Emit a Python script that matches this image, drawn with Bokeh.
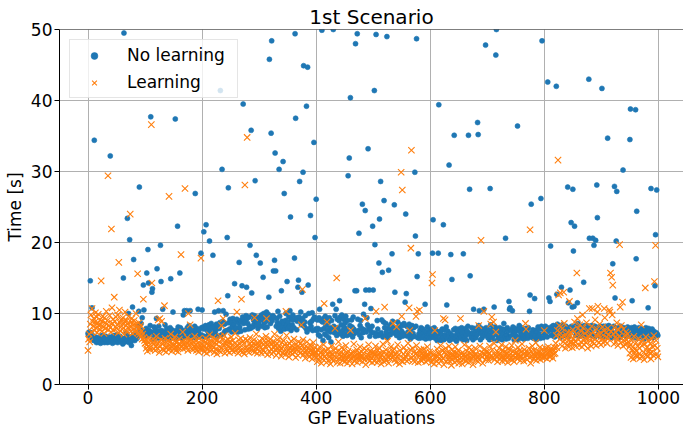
from bokeh.plotting import figure
from bokeh.models import Range1d, Span
from bokeh.embed import file_html
from bokeh.resources import INLINE

title = "1st Scenario"
x_label = "GP Evaluations"
y_label = "Time [s]"
series_names = ["No learning", "Learning"]
x_ticks = [0, 200, 400, 600, 800, 1000]
y_ticks = [0, 10, 20, 30, 40, 50]

# ---- "No learning": band values per block of 100 evaluations ----
nl_000 = [7.2, 6.9, 7.4, 7.0, 6.8, 7.3, 6.6, 7.1, 6.9, 6.5,
          6.2, 6.0, 6.4, 6.7, 6.1, 5.9, 6.3, 6.6, 6.0, 6.2,
          6.5, 6.1, 5.8, 6.4, 6.9, 6.3, 6.0, 6.6, 6.2, 5.9,
          6.4, 6.8, 6.1, 6.3, 5.9, 6.5, 6.2, 6.0, 6.7, 6.4,
          6.1, 6.6, 6.3, 5.8, 6.2, 6.9, 6.4, 6.0, 6.5, 6.2,
          7.0, 6.3, 5.9, 6.6, 6.1, 6.4, 6.8, 6.2, 6.0, 6.5,
          6.3, 5.7, 6.1, 6.7, 6.4, 6.0, 6.6, 7.2, 6.3, 6.1,
          6.8, 6.4, 5.9, 6.2, 6.5, 6.0, 5.5, 6.7, 6.3, 6.9,
          6.6, 7.1, 6.2, 6.4, 6.8, 7.3, 6.5, 7.0, 8.2, 7.6,
          7.4, 6.9, 7.7, 8.6, 7.2, 9.4, 7.0, 7.5, 8.1, 7.3]
nl_100 = [7.5, 6.8, 7.9, 6.5, 7.2, 8.0, 6.7, 7.6, 7.0, 8.3,
          6.6, 7.4, 6.9, 7.8, 6.4, 7.3, 8.1, 6.8, 7.7, 7.0,
          9.3, 6.9, 6.5, 7.5, 8.2, 6.7, 7.3, 7.9, 6.6, 7.6,
          6.8, 7.8, 7.1, 7.4, 6.5, 8.4, 7.2, 6.9, 7.9, 6.6,
          7.6, 7.0, 6.7, 7.4, 8.0, 6.9, 6.5, 7.7, 7.2, 10.2,
          6.8, 7.5, 6.6, 7.9, 7.0, 7.6, 6.5, 7.3, 8.1, 6.9,
          7.5, 6.7, 8.0, 7.1, 7.7, 6.4, 7.3, 9.8, 6.8, 7.8,
          7.0, 7.6, 6.7, 10.4, 8.0, 6.9, 7.3, 8.3, 6.6, 10.5,
          7.7, 7.0, 7.5, 6.6, 7.9, 7.2, 6.8, 8.2, 7.1, 6.6,
          7.4, 7.9, 6.8, 10.6, 7.2, 7.7, 6.7, 7.0, 9.4, 8.0]
nl_200 = [7.6, 6.9, 8.1, 7.2, 7.8, 6.7, 8.3, 7.3, 7.9, 6.8,
          7.5, 7.0, 8.4, 7.7, 6.9, 7.9, 8.6, 7.2, 8.0, 7.4,
          7.0, 8.2, 10.2, 7.6, 7.1, 8.5, 7.8, 6.8, 8.3, 7.4,
          7.9, 8.7, 7.3, 8.4, 7.0, 7.8, 8.9, 8.1, 7.2, 8.5,
          7.5, 8.6, 9.9, 7.6, 9.0, 8.0, 7.3, 8.7, 7.8, 9.2,
          7.7, 8.8, 7.4, 8.2, 9.3, 7.6, 8.5, 9.6, 7.8, 8.9,
          8.0, 9.2, 7.6, 7.4, 8.7, 9.4, 8.1, 9.0, 7.5, 8.8,
          8.3, 9.5, 7.8, 8.6, 9.1, 7.7, 8.9, 9.7, 8.0, 9.3,
          8.6, 7.8, 9.5, 8.2, 9.0, 7.9, 9.4, 8.4, 9.8, 8.1,
          9.1, 8.5, 9.7, 8.0, 8.9, 9.9, 8.3, 9.4, 7.9, 8.8]
nl_300 = [8.4, 9.5, 7.9, 9.1, 9.8, 8.2, 9.3, 7.6, 10.0, 8.7,
          8.0, 9.6, 8.9, 10.2, 8.1, 9.2, 9.9, 8.5, 7.7, 9.4,
          8.6, 10.1, 8.0, 9.0, 9.7, 8.3, 9.5, 7.8, 8.9, 9.8,
          8.2, 9.3, 8.7, 10.3, 7.9, 9.1, 9.6, 8.4, 7.5, 9.4,
          8.9, 8.1, 9.9, 8.6, 9.3, 7.8, 9.0, 10.0, 8.3, 9.6,
          7.9, 8.8, 9.5, 8.2, 10.4, 8.6, 7.6, 9.2, 8.4, 9.8,
          9.1, 8.0, 8.7, 9.7, 8.1, 9.4, 7.7, 8.9, 10.1, 8.5,
          9.5, 8.0, 9.0, 10.2, 8.4, 7.5, 9.3, 8.6, 9.8, 8.2,
          8.8, 9.7, 7.9, 9.1, 7.4, 9.4, 8.5, 10.0, 7.8, 8.7,
          9.6, 8.2, 8.9, 10.1, 7.6, 9.2, 8.0, 9.5, 8.4, 7.8]
nl_400 = [8.4, 7.6, 9.1, 7.9, 7.0, 9.4, 8.2, 6.8, 9.0, 7.7,
          7.3, 8.8, 6.2, 9.3, 7.9, 7.1, 9.6, 8.3, 6.9, 9.1,
          7.6, 8.7, 6.6, 9.4, 8.0, 7.4, 6.0, 9.0, 7.8, 7.0,
          8.9, 8.2, 7.3, 9.7, 7.5, 8.6, 6.9, 9.2, 8.0, 7.4,
          9.0, 7.7, 9.5, 7.1, 8.4, 9.8, 7.6, 6.8, 9.2, 8.1,
          7.2, 8.7, 9.6, 7.8, 6.9, 9.0, 8.2, 7.4, 9.9, 8.3,
          7.6, 7.0, 9.1, 8.1, 6.7, 9.5, 7.8, 7.2, 8.8, 9.3,
          7.4, 8.5, 6.8, 9.2, 7.6, 9.7, 7.0, 8.3, 9.0, 6.6,
          7.9, 8.8, 7.3, 9.9, 7.7, 6.9, 9.1, 8.2, 7.4, 9.4,
          8.4, 7.1, 8.0, 9.3, 6.8, 7.7, 9.5, 7.3, 8.2, 6.9]
nl_500 = [8.3, 7.3, 8.9, 7.6, 6.8, 8.5, 7.2, 9.0, 7.8, 6.9,
          8.7, 7.5, 7.0, 8.4, 7.3, 9.1, 7.7, 6.7, 8.8, 7.2,
          8.0, 6.9, 8.6, 7.4, 9.0, 6.6, 7.9, 8.7, 7.1, 8.2,
          7.0, 8.5, 7.6, 6.8, 8.9, 7.3, 8.1, 6.7, 8.6, 7.2,
          7.8, 6.9, 7.4, 8.8, 7.0, 8.2, 6.6, 7.7, 8.4, 6.9,
          7.5, 6.8, 8.3, 7.2, 8.6, 6.9, 6.5, 7.9, 7.1, 8.2,
          6.8, 7.4, 6.9, 8.5, 7.2, 6.4, 7.8, 7.0, 8.3, 6.7,
          7.2, 8.0, 6.8, 7.5, 6.5, 8.2, 6.9, 7.7, 6.6, 7.3,
          7.1, 6.5, 7.6, 6.8, 8.0, 7.0, 6.6, 7.8, 7.3, 6.7,
          7.5, 6.9, 6.4, 7.4, 6.8, 8.1, 6.7, 7.2, 6.5, 7.7]
nl_600 = [7.3, 6.6, 7.8, 6.9, 6.3, 7.5, 6.7, 8.0, 7.1, 6.5,
          7.6, 6.9, 6.2, 7.4, 6.8, 7.9, 7.1, 6.4, 7.5, 6.2,
          7.0, 7.8, 6.6, 7.3, 6.3, 7.7, 7.0, 6.7, 8.1, 7.2,
          6.5, 7.5, 6.8, 7.8, 6.2, 7.2, 8.2, 6.6, 7.4, 6.9,
          6.4, 7.7, 7.1, 6.6, 7.9, 6.9, 6.1, 7.5, 6.8, 7.3,
          7.8, 6.5, 7.0, 7.6, 6.6, 8.0, 7.2, 6.3, 7.7, 6.8,
          7.4, 6.6, 7.9, 7.0, 6.2, 7.5, 8.2, 6.8, 7.2, 6.5,
          7.7, 6.9, 6.6, 8.0, 7.3, 6.3, 7.5, 6.8, 7.9, 7.1,
          6.6, 7.7, 7.0, 6.4, 7.4, 8.3, 6.8, 7.5, 6.3, 7.2,
          7.9, 6.6, 7.3, 6.9, 6.4, 7.7, 7.1, 6.7, 8.0, 6.9]
nl_700 = [7.2, 6.6, 7.7, 6.9, 6.3, 7.5, 8.4, 6.7, 7.4, 6.4,
          7.9, 6.9, 6.5, 7.5, 8.1, 6.7, 7.2, 6.2, 7.7, 6.9,
          6.5, 7.4, 8.0, 6.7, 7.6, 6.9, 6.3, 7.8, 7.1, 8.6,
          7.7, 6.7, 7.4, 6.4, 7.0, 8.0, 7.5, 6.5, 8.1, 7.1,
          6.4, 7.7, 6.9, 7.6, 6.6, 8.1, 7.1, 6.3, 7.4, 7.9,
          6.9, 6.5, 7.6, 7.1, 6.3, 7.8, 8.3, 6.7, 7.4, 6.9,
          8.0, 7.1, 6.5, 7.6, 6.4, 7.4, 6.9, 7.9, 6.6, 7.7,
          7.1, 6.5, 8.0, 6.9, 7.5, 6.4, 7.3, 8.8, 6.9, 6.6,
          7.7, 7.1, 6.5, 7.9, 6.9, 7.6, 6.3, 7.4, 6.7, 8.1,
          6.9, 7.8, 7.1, 6.5, 7.6, 8.2, 6.9, 7.9, 6.6, 7.3]
nl_800 = [7.7, 6.9, 8.2, 7.3, 7.9, 6.7, 8.1, 7.5, 7.0, 8.0,
          7.2, 8.3, 6.9, 7.7, 8.2, 7.0, 8.3, 7.4, 6.7, 7.9,
          7.2, 8.1, 6.8, 8.5, 7.5, 8.0, 6.9, 7.7, 6.6, 8.3,
          7.8, 7.1, 8.4, 7.4, 6.9, 8.2, 7.6, 7.0, 8.2, 7.9,
          7.1, 8.3, 7.4, 6.8, 8.0, 8.4, 7.6, 6.9, 8.2, 7.3,
          6.7, 7.9, 7.2, 8.1, 7.6, 6.9, 8.3, 7.4, 8.0, 8.6,
          7.1, 7.9, 6.8, 8.2, 7.4, 8.0, 6.9, 7.6, 8.1, 7.2,
          8.3, 7.4, 6.8, 7.9, 8.3, 7.5, 6.9, 8.2, 7.3, 6.7,
          8.0, 7.2, 7.6, 8.3, 6.9, 7.9, 8.1, 7.3, 6.7, 8.2,
          7.6, 6.9, 7.9, 7.2, 8.0, 7.4, 8.1, 6.8, 7.6, 8.2]
nl_900 = [7.2, 7.9, 6.7, 7.5, 8.2, 6.9, 7.7, 7.0, 8.2, 7.4,
          6.7, 7.9, 7.2, 8.3, 6.9, 7.6, 7.0, 8.0, 7.4, 6.6,
          7.8, 7.2, 8.2, 6.9, 7.5, 6.7, 8.0, 7.2, 8.0, 7.6,
          7.0, 7.9, 6.6, 7.4, 8.2, 6.9, 7.7, 7.2, 6.5, 8.0,
          7.4, 6.9, 7.8, 7.2, 6.7, 7.6, 8.1, 7.0, 7.9, 7.2,
          6.5, 7.5, 6.9, 8.0, 7.2, 6.6, 7.6, 7.0, 8.1, 7.4,
          6.9, 7.8, 7.2, 6.5, 7.6, 7.0, 8.0, 6.7, 7.4, 6.9,
          7.8, 7.2, 6.7, 7.6, 7.0, 6.4, 7.5, 6.9, 8.0, 7.3,
          6.7, 7.6, 7.0, 7.9, 6.5, 7.3, 6.9, 7.5, 6.7, 7.8,
          7.1, 6.6, 7.5, 6.9, 7.6, 6.7, 7.3, 6.4, 7.1, 6.9]

# "No learning": slow evaluations (evaluation index, time)
nl_slow_x = [4, 7, 11, 39, 62, 63, 69, 71, 73, 78, 80, 89, 90, 97, 98,
             103, 105, 106, 110, 112, 113, 121, 127, 128, 131, 145, 153, 157,
             161, 169, 179, 188, 198, 200, 203, 207, 213, 219, 229, 232, 235,
             237, 244, 245, 246, 257, 265, 270, 272, 278, 284, 286, 287, 293,
             295, 302, 307, 317, 318, 321, 322, 325, 327, 328, 329, 335, 339,
             342, 344, 349, 355, 362, 363, 364, 368, 369, 371, 375, 377, 378,
             383, 385, 386, 390, 396, 398, 400, 406, 410, 429, 430, 435, 441,
             456, 458, 460, 468, 469, 471, 472, 475, 481, 485, 486, 487, 491,
             493, 496, 499, 500, 502, 503, 505, 510, 511, 513, 516, 519, 524,
             527, 533, 537, 538, 556, 557, 558, 573, 574, 576, 577, 579, 591,
             604, 605, 614, 615, 623, 629, 633, 636, 638, 642, 658, 667, 669,
             670, 676, 683, 684, 686, 694, 697, 705, 712, 715, 716, 732, 738,
             739, 740, 744, 753, 774, 775, 777, 783, 794, 796, 806, 808, 810,
             811, 821, 822, 830, 841, 842, 845, 847, 849, 850, 851, 852, 853,
             858, 869, 878, 879, 885, 887, 890, 892, 893, 901, 911, 920, 923,
             924, 926, 927, 938, 950, 951, 954, 960, 961, 962, 982, 987, 994,
             995, 997]
nl_slow_y = [14.6, 10.8, 34.4, 32.2, 15.0, 49.5, 23.4, 10.0, 20.4, 10.9, 17.6, 10.3, 27.8, 14.0, 10.5,
             15.7, 19.0, 14.3, 37.7, 13.0, 13.5, 16.3, 19.6, 14.5, 10.6, 14.9, 37.4, 22.3,
             15.7, 10.4, 10.4, 26.9, 18.5, 10.5, 21.5, 22.5, 20.2, 18.2, 10.4, 41.4, 30.3,
             10.4, 20.7, 12.5, 27.7, 14.2, 17.2, 13.9, 39.5, 13.7, 19.6, 35.8, 12.9, 28.7,
             18.2, 17.1, 15.1, 12.3, 45.8, 35.4, 48.4, 16.0, 17.5, 32.6, 16.0, 30.3, 13.2,
             31.4, 26.9, 14.5, 23.6, 17.8, 49.4, 37.5, 13.7, 14.7, 28.6, 13.0, 29.9, 44.9,
             39.2, 44.7, 14.0, 23.8, 34.1, 20.7, 26.1, 10.6, 49.9, 11.3, 50.0, 10.6, 11.8,
             29.4, 31.9, 40.4, 13.2, 48.0, 13.2, 49.4, 21.3, 25.4, 11.3, 24.5, 13.3, 33.2,
             13.3, 10.7, 22.3, 13.3, 41.4, 19.7, 49.3, 17.1, 23.3, 28.6, 15.8, 25.9, 49.0,
             16.1, 18.4, 25.3, 13.0, 11.6, 24.0, 12.8, 29.9, 20.9, 48.7, 15.2, 18.4, 11.3,
             18.5, 23.2, 18.5, 39.4, 22.5, 11.2, 30.9, 18.3, 14.8, 35.1, 18.4, 35.1, 27.5,
             15.3, 10.6, 36.9, 35.2, 10.4, 10.6, 47.8, 27.6, 10.9, 46.4, 50.0, 20.6, 11.7,
             10.6, 10.8, 10.4, 36.4, 10.3, 12.6, 25.4, 12.1, 26.2, 48.4, 42.6, 12.2, 11.7,
             19.5, 42.0, 12.7, 13.7, 27.8, 11.5, 13.3, 22.8, 10.9, 27.5, 18.8, 11.0, 22.3,
             11.5, 14.4, 43.0, 20.6, 20.6, 19.6, 20.3, 28.1, 23.5, 41.7, 34.7, 17.0, 27.9,
             12.2, 20.2, 27.2, 30.2, 34.5, 38.8, 11.8, 38.7, 17.7, 24.4, 10.8, 27.6, 13.9,
             21.1, 27.4]

# ---- "Learning": band values per block of 100 evaluations ----
ln_000 = [4.8, 6.4, 7.1, 6.0, 8.5, 9.8, 7.4, 9.2, 8.9, 8.2,
          9.3, 7.6, 8.8, 10.1, 8.0, 9.5, 7.3, 8.6, 9.9, 8.3,
          7.8, 9.1, 8.4, 9.7, 7.5, 8.9, 9.6, 8.1, 7.2, 9.4,
          8.7, 7.9, 10.3, 8.5, 9.0, 8.2, 7.7, 8.3, 9.7, 8.0,
          7.4, 8.8, 9.3, 8.6, 9.2, 7.6, 10.4, 8.9, 8.1, 9.5,
          7.9, 8.4, 9.8, 7.3, 8.0, 9.1, 8.7, 7.5, 9.1, 8.2,
          7.8, 9.4, 8.5, 7.1, 8.9, 10.2, 7.7, 8.3, 9.0, 7.4,
          8.6, 9.6, 7.9, 8.2, 8.8, 7.5, 8.8, 9.3, 7.2, 8.4,
          7.8, 9.0, 7.4, 8.5, 10.0, 7.6, 8.1, 8.7, 7.3, 8.7,
          7.0, 7.9, 8.3, 6.8, 7.5, 6.4, 7.1, 6.9, 6.6, 6.2]
ln_100 = [5.8, 6.3, 5.1, 5.6, 4.7, 6.0, 5.4, 6.6, 5.2, 4.9,
          6.1, 5.5, 4.6, 5.9, 6.4, 5.0, 5.7, 6.2, 4.8, 5.3,
          6.8, 5.6, 5.1, 9.0, 6.0, 4.5, 5.8, 5.4, 6.3, 8.9,
          5.0, 5.7, 6.1, 4.8, 5.5, 6.5, 5.2, 4.6, 5.9, 5.3,
          6.2, 4.9, 5.6, 6.0, 5.1, 7.1, 5.4, 4.7, 5.8, 6.3,
          5.0, 5.5, 6.7, 5.2, 4.8, 5.9, 6.1, 5.3, 4.6, 5.7,
          6.4, 5.1, 5.6, 4.9, 6.0, 5.4, 7.4, 5.0, 5.8, 6.2,
          4.7, 5.5, 5.9, 5.2, 6.6, 4.8, 5.3, 6.1, 5.6, 4.5,
          5.9, 6.3, 5.0, 5.7, 4.9, 6.0, 5.4, 6.8, 5.1, 5.6,
          4.8, 6.2, 5.3, 5.8, 4.6, 6.5, 5.0, 5.5, 6.1, 5.2]
ln_200 = [5.7, 4.9, 6.2, 5.3, 4.6, 5.9, 6.5, 5.1, 4.4, 5.8,
          6.3, 5.0, 5.5, 7.0, 4.7, 5.6, 6.1, 4.9, 5.4, 6.6,
          5.2, 4.5, 5.9, 6.4, 5.0, 5.7, 4.3, 6.2, 5.5, 4.8,
          6.0, 5.3, 6.8, 4.6, 5.8, 5.1, 6.3, 4.9, 5.6, 6.9,
          4.4, 5.7, 6.1, 5.0, 4.7, 6.4, 5.4, 5.9, 4.5, 6.0,
          5.2, 6.7, 4.8, 5.5, 6.2, 5.0, 4.6, 5.8, 7.2, 5.3,
          4.9, 6.0, 5.6, 4.4, 6.3, 5.1, 5.7, 4.7, 6.5, 5.4,
          5.0, 4.6, 6.1, 5.8, 4.3, 5.5, 6.4, 5.2, 4.8, 5.9,
          6.2, 5.0, 4.5, 5.7, 6.6, 5.3, 4.9, 6.0, 5.4, 4.7,
          5.8, 6.3, 5.1, 4.6, 5.6, 7.1, 5.0, 4.4, 5.9, 5.5]
ln_300 = [5.4, 4.7, 6.0, 5.2, 4.4, 6.5, 5.0, 4.8, 5.7, 6.2,
          4.5, 5.3, 6.8, 4.9, 5.6, 4.2, 6.1, 5.4, 4.7, 5.9,
          6.4, 5.0, 4.3, 5.7, 6.0, 4.6, 5.2, 7.1, 4.9, 5.5,
          4.1, 5.8, 6.3, 5.0, 4.5, 5.4, 6.6, 4.8, 5.1, 4.0,
          5.9, 4.4, 5.3, 6.2, 4.7, 5.6, 4.2, 5.0, 6.9, 4.6,
          5.5, 4.9, 3.9, 5.8, 5.2, 4.5, 6.1, 4.8, 5.4, 4.3,
          5.0, 6.4, 4.6, 5.1, 3.8, 5.7, 4.9, 5.3, 4.1, 6.0,
          4.7, 5.2, 4.4, 5.8, 4.0, 5.5, 4.8, 6.3, 4.2, 5.0,
          4.5, 3.7, 5.4, 4.9, 6.0, 4.3, 5.1, 4.6, 3.9, 5.6,
          4.8, 4.2, 5.3, 3.6, 4.7, 5.9, 4.4, 4.0, 5.2, 4.5]
ln_400 = [3.8, 4.5, 3.2, 4.9, 4.1, 3.5, 5.3, 3.9, 4.4, 3.0,
          4.7, 3.6, 4.2, 5.6, 3.3, 4.0, 4.8, 3.7, 3.1, 4.6,
          4.3, 5.0, 3.4, 3.9, 4.5, 2.9, 4.1, 5.4, 3.6, 4.2,
          3.3, 4.8, 4.0, 3.5, 5.1, 3.8, 4.4, 3.1, 4.7, 6.0,
          3.7, 4.2, 3.0, 4.6, 3.9, 5.2, 3.4, 4.3, 3.8, 4.9,
          3.2, 4.1, 5.5, 3.6, 4.4, 3.0, 4.7, 3.9, 4.2, 3.5,
          5.0, 3.7, 4.3, 2.9, 4.6, 3.8, 5.7, 3.3, 4.0, 4.5,
          3.6, 4.9, 3.1, 4.2, 3.8, 4.4, 3.4, 5.3, 3.9, 4.1,
          4.6, 3.2, 4.0, 3.7, 5.1, 3.5, 4.3, 2.8, 4.8, 3.9,
          4.2, 3.6, 5.6, 4.0, 3.3, 4.7, 3.8, 4.4, 3.1, 4.5]
ln_500 = [3.9, 4.6, 3.3, 4.2, 5.4, 3.7, 4.0, 3.1, 4.8, 4.3,
          3.5, 5.1, 3.8, 4.4, 2.9, 4.1, 3.6, 5.7, 4.5, 3.2,
          4.0, 3.7, 4.9, 3.4, 4.3, 6.1, 3.9, 3.0, 4.6, 4.1,
          3.6, 5.3, 4.2, 3.8, 4.7, 3.3, 4.0, 5.0, 3.5, 4.4,
          3.1, 4.5, 3.9, 5.6, 3.7, 4.2, 2.9, 4.8, 3.4, 4.1,
          4.6, 3.8, 3.2, 4.3, 5.2, 3.6, 4.0, 3.9, 4.7, 3.3,
          4.2, 5.8, 3.5, 4.1, 3.7, 4.9, 3.0, 4.4, 3.8, 5.1,
          3.4, 4.0, 4.6, 3.2, 4.3, 3.9, 5.5, 3.6, 4.2, 3.1,
          4.8, 3.7, 4.1, 3.5, 4.9, 3.3, 4.4, 4.0, 3.6, 5.0,
          3.9, 4.5, 3.2, 4.1, 3.8, 5.3, 3.4, 4.2, 3.7, 4.6]
ln_600 = [3.7, 4.4, 3.1, 4.0, 5.2, 3.5, 4.2, 2.9, 4.7, 3.8,
          4.1, 3.3, 5.0, 3.9, 4.5, 3.0, 4.3, 3.6, 5.5, 4.0,
          3.4, 4.8, 3.7, 4.2, 2.8, 4.6, 3.9, 5.1, 3.2, 4.1,
          4.5, 3.6, 4.0, 5.4, 3.3, 4.3, 3.8, 2.7, 4.9, 3.5,
          4.2, 3.9, 4.6, 3.1, 5.3, 3.7, 4.0, 4.4, 3.4, 4.8,
          3.0, 4.1, 3.6, 5.0, 4.3, 3.8, 2.9, 4.5, 3.5, 4.2,
          5.6, 3.9, 4.0, 3.3, 4.7, 3.6, 4.1, 3.1, 5.2, 3.8,
          4.4, 3.4, 4.9, 3.7, 4.0, 2.8, 4.6, 3.9, 4.2, 5.1,
          3.5, 4.3, 3.8, 4.0, 3.2, 4.8, 3.6, 5.4, 4.1, 3.3,
          4.5, 3.9, 3.0, 4.4, 3.7, 5.0, 4.2, 3.5, 4.6, 3.8]
ln_700 = [4.0, 4.6, 3.4, 4.3, 5.4, 3.8, 8.5, 4.1, 3.1, 4.9,
          3.7, 4.4, 5.8, 3.5, 4.2, 7.4, 3.9, 4.7, 3.2, 4.5,
          4.1, 5.1, 3.6, 4.3, 3.9, 5.6, 3.3, 4.8, 4.0, 3.7,
          4.6, 3.4, 5.3, 4.2, 3.8, 4.4, 3.1, 5.0, 4.1, 3.6,
          4.9, 4.3, 3.9, 5.5, 3.5, 4.0, 4.7, 3.2, 4.4, 6.2,
          3.8, 4.5, 4.1, 3.6, 5.2, 4.2, 3.9, 4.8, 3.4, 4.6,
          4.0, 5.7, 3.7, 4.3, 3.3, 4.9, 4.4, 3.9, 7.8, 4.1,
          3.5, 4.6, 4.2, 5.1, 3.8, 4.4, 3.0, 4.7, 4.0, 5.4,
          4.3, 3.6, 4.8, 4.1, 3.9, 5.9, 3.4, 4.5, 4.2, 3.7,
          4.6, 4.0, 5.2, 3.5, 4.4, 4.1, 3.8, 5.0, 4.3, 3.9]
ln_800 = [4.5, 3.8, 5.1, 4.2, 4.7, 3.6, 4.4, 5.3, 4.0, 4.8,
          3.9, 4.6, 5.0, 4.1, 4.5, 3.7, 4.9, 4.3, 5.2, 4.4,
          5.8, 6.9, 5.2, 7.6, 6.1, 5.5, 8.3, 6.4, 5.0, 7.2,
          6.7, 5.4, 7.9, 6.0, 5.7, 8.6, 6.3, 5.1, 7.0, 6.6,
          5.6, 7.4, 6.2, 5.3, 8.1, 6.8, 5.9, 7.3, 6.0, 5.2,
          7.7, 6.5, 5.8, 8.8, 6.1, 5.4, 7.1, 6.6, 5.7, 7.9,
          6.3, 5.5, 8.4, 6.9, 6.0, 7.5, 5.3, 6.7, 8.0, 6.2,
          5.6, 7.2, 6.5, 5.9, 8.7, 6.4, 5.1, 7.6, 6.8, 5.8,
          7.0, 6.2, 5.4, 8.2, 6.7, 6.0, 7.4, 5.7, 6.4, 9.1,
          6.9, 5.5, 7.8, 6.3, 6.1, 7.1, 5.9, 8.5, 6.6, 5.6]
ln_900 = [7.2, 6.4, 8.1, 5.9, 7.6, 6.8, 9.4, 6.1, 7.3, 6.6,
          5.8, 7.9, 6.5, 7.0, 8.4, 6.2, 5.6, 7.5, 6.9, 9.8,
          6.3, 7.1, 5.7, 8.0, 6.6, 7.4, 6.0, 8.7, 6.4, 5.5,
          7.7, 6.8, 6.1, 7.2, 5.9, 8.3, 6.5, 7.0, 5.4, 7.8,
          6.2, 6.9, 5.6, 7.4, 6.3, 5.8, 7.1, 6.0, 6.6, 5.3,
          4.4, 5.6, 3.8, 6.2, 4.9, 5.3, 3.6, 6.8, 4.6, 5.0,
          4.1, 5.9, 4.7, 3.9, 5.4, 6.5, 4.3, 5.1, 3.7, 6.0,
          4.8, 5.5, 4.0, 6.3, 4.5, 3.5, 5.7, 4.9, 6.7, 4.2,
          5.2, 3.9, 6.1, 4.7, 5.0, 4.4, 5.8, 3.6, 6.4, 4.6,
          5.3, 4.1, 6.9, 4.8, 5.5, 3.8, 6.2, 4.3, 5.1, 7.0]

# "Learning": slower evaluations (evaluation index, time)
ln_slow_x = [7, 23, 35, 41, 42, 46, 54, 55, 74, 87, 97, 111, 112, 123, 126,
             134, 142, 163, 170, 176, 179, 198, 228, 234, 237, 261, 269, 275,
             279, 292, 313, 347, 374, 376, 414, 419, 433, 436, 460, 486, 505,
             520, 535, 541, 549, 550, 551, 563, 564, 566, 567, 575, 577, 581,
             603, 604, 608, 623, 626, 653, 685, 689, 694, 708, 711, 767, 775,
             800, 824, 825, 828, 834, 844, 857, 858, 867, 879, 884, 893, 894,
             905, 914, 915, 916, 918, 920, 932, 933, 937, 970, 977, 993, 995, 999]
ln_slow_y = [10.7, 14.6, 29.4, 21.9, 10.8, 12.3, 17.2, 10.5, 24.0, 15.6, 12.0, 36.6, 14.3, 9.1, 9.3,
             11.1, 26.5, 18.3, 27.6, 10.0, 8.4, 17.8, 11.8, 8.3, 9.3, 10.2, 12.0, 28.1,
             34.8, 9.4, 9.3, 10.3, 8.4, 13.4, 11.4, 8.8, 7.9, 15.0, 7.6, 9.3, 10.3,
             10.9, 8.6, 8.1, 29.9, 9.6, 27.4, 10.8, 7.6, 19.2, 33.0, 9.6, 10.3, 10.5,
             14.3, 15.5, 7.6, 9.3, 9.1, 9.3, 8.3, 20.3, 10.3, 9.5, 8.8, 8.6, 21.8,
             7.6, 31.6, 12.6, 12.9, 13.0, 11.7, 15.7, 9.3, 9.8, 10.7, 10.7, 10.2, 11.0,
             10.7, 10.5, 10.2, 15.7, 15.1, 14.0, 19.7, 10.9, 11.6, 8.4, 13.6, 14.5, 19.6, 3.9]


def assemble(blocks, slow_x, slow_y):
    values = []
    for b in blocks:
        values.extend(b)
    for i, v in zip(slow_x, slow_y):
        if i < len(values):
            values[i] = v
    return list(range(len(values))), values


x_nl, y_nl = assemble([nl_000, nl_100, nl_200, nl_300, nl_400,
                       nl_500, nl_600, nl_700, nl_800, nl_900], nl_slow_x, nl_slow_y)
x_ln, y_ln = assemble([ln_000, ln_100, ln_200, ln_300, ln_400,
                       ln_500, ln_600, ln_700, ln_800, ln_900], ln_slow_x, ln_slow_y)

FONT = "DejaVu Sans"

p = figure(width=683, height=433, output_backend="svg", toolbar_location=None,
           x_range=Range1d(-50, 1044), y_range=Range1d(0, 50),
           min_border_left=59, min_border_right=0, min_border_top=29, min_border_bottom=49,
           title=title)
p.outline_line_color = None
p.background_fill_color = "white"
p.border_fill_color = "white"

p.title.align = "center"
p.title.text_font = FONT
p.title.text_font_size = "20px"
p.title.text_font_style = "normal"
p.title.text_color = "black"
p.title.standoff = 2

for ax in (p.xaxis[0], p.yaxis[0]):
    ax.axis_line_color = "black"
    ax.axis_line_width = 1
    ax.major_tick_line_color = "black"
    ax.major_tick_out = 5
    ax.major_tick_in = 0
    ax.minor_tick_line_color = None
    ax.major_label_text_font = FONT
    ax.major_label_text_font_size = "17px"
    ax.major_label_text_color = "black"
    ax.axis_label_text_font = FONT
    ax.axis_label_text_font_size = "17px"
    ax.axis_label_text_font_style = "normal"
    ax.axis_label_text_color = "black"

p.xaxis.ticker = x_ticks
p.yaxis.ticker = y_ticks
p.xaxis.axis_label = x_label
p.yaxis.axis_label = y_label
p.xaxis.major_label_standoff = 1
p.yaxis.major_label_standoff = 2
p.xaxis.axis_label_standoff = 1
p.yaxis.axis_label_standoff = 3

p.xgrid.ticker = x_ticks
p.ygrid.ticker = y_ticks
p.xgrid.grid_line_color = "#b0b0b0"
p.ygrid.grid_line_color = "#b0b0b0"
p.xgrid.grid_line_width = 1
p.ygrid.grid_line_width = 1

p.add_layout(Span(location=50, dimension="width", line_color="black", line_width=1))

p.scatter(x_nl, y_nl, marker="circle", size=5, fill_color="#1f77b4",
          line_color="#1f77b4", line_width=0.6, legend_label=series_names[0])
p.scatter(x_ln, y_ln, marker="x", size=9, line_color="#ff7f0e",
          line_width=1.1, legend_label=series_names[1])

lg = p.legend[0]
lg.location = "top_left"
lg.margin = 10
lg.padding = 5
lg.spacing = 7
lg.glyph_width = 38
lg.glyph_height = 17
lg.label_height = 20
lg.label_width = 105
lg.label_standoff = 14
lg.label_text_font = FONT
lg.label_text_font_size = "17px"
lg.label_text_color = "black"
lg.border_line_color = "#cccccc"
lg.border_line_width = 1
lg.background_fill_alpha = 0.8

open("out.html", "w").write(file_html(p, INLINE))
